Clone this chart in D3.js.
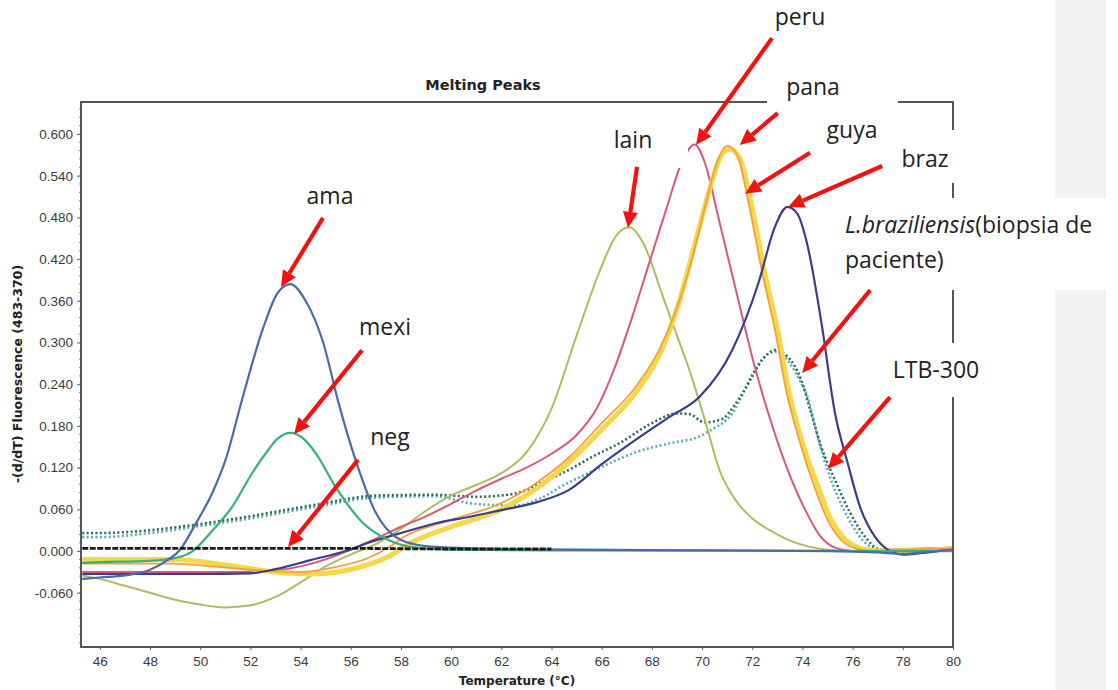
<!DOCTYPE html>
<html><head><meta charset="utf-8">
<script src="https://cdn.jsdelivr.net/npm/d3@7"></script>
<style>html,body{margin:0;padding:0;background:#fff;} svg{display:block}</style>
</head><body>
<svg id="chart" width="1118" height="690"></svg>
<script>
// ---------- data ----------
const xTicks = [46,48,50,52,54,56,58,60,62,64,66,68,70,72,74,76,78,80];
const yTicks = [-0.06,0,0.06,0.12,0.18,0.24,0.30,0.36,0.42,0.48,0.54,0.60];

const ama = [[45.3,-0.040],[46,-0.038],[47,-0.035],[48,-0.027],[48.7,-0.013],[49.2,0.002],[49.8,0.038],[50.5,0.085],[51,0.13],[51.7,0.222],[52.5,0.32],[53.1,0.372],[53.6,0.384],[54.2,0.36],[54.9,0.30],[55.5,0.215],[56.2,0.13],[57,0.055],[57.8,0.02],[58.8,0.008],[60,0.005],[62,0.003],[65,0.002],[70,0.001],[75,0.0],[77,-0.002],[78,-0.004],[79,-0.001],[80,0.002]];
const mexi = [[45.3,-0.017],[46,-0.016],[48,-0.014],[49,-0.01],[49.7,0.0],[50.5,0.03],[51.3,0.065],[52,0.108],[52.6,0.14],[53.1,0.162],[53.6,0.170],[54.1,0.162],[54.6,0.141],[55.4,0.092],[56.5,0.04],[57.5,0.016],[58.6,0.005],[60,0.002],[64,0.001],[80,0.0]];
const neg = [[45.3,0.004],[50,0.004],[55,0.004],[60,0.003],[64,0.003]];
const lain = [[45.3,-0.035],[46,-0.04],[47,-0.05],[48,-0.06],[49,-0.07],[50,-0.077],[51,-0.081],[52,-0.078],[53,-0.066],[54,-0.045],[55,-0.022],[56,-0.005],[57,0.01],[58,0.032],[59,0.058],[60,0.08],[61,0.095],[62,0.112],[63,0.142],[64,0.205],[65,0.31],[66,0.41],[66.6,0.455],[67.1,0.466],[67.7,0.44],[68.4,0.37],[69,0.31],[69.5,0.26],[70.1,0.19],[70.7,0.116],[71.4,0.07],[72,0.047],[72.7,0.03],[73.5,0.015],[74.3,0.006],[75,0.002],[76,0],[80,0.001]];
const peru = [[45.3,-0.03],[46,-0.03],[48,-0.03],[50,-0.03],[52,-0.03],[53,-0.028],[54,-0.022],[55,-0.012],[56,0.002],[57,0.018],[58,0.035],[59,0.05],[60,0.068],[61,0.087],[62,0.104],[63,0.12],[64,0.14],[65,0.167],[65.8,0.205],[66.5,0.262],[67.2,0.335],[67.9,0.415],[68.6,0.495],[69.2,0.56],[69.7,0.585],[70.1,0.56],[70.65,0.48],[71.45,0.36],[72.1,0.265],[72.8,0.18],[73.4,0.118],[74.1,0.06],[74.7,0.022],[75.3,0.005],[76,0.0],[77,0.002],[78,0.003],[79,0.004],[80,0.005]];
const pana = [[45.3,-0.018],[46,-0.018],[49,-0.018],[50.5,-0.022],[52.5,-0.028],[54,-0.03],[55.5,-0.022],[56.7,-0.01],[57.5,0.005],[58.1,0.02],[60,0.045],[62,0.069],[63.4,0.098],[64.7,0.135],[66,0.184],[67.35,0.236],[68.3,0.29],[69,0.35],[69.6,0.42],[70.15,0.50],[70.6,0.56],[71.0,0.583],[71.4,0.57],[71.8,0.51],[72.4,0.40],[72.95,0.31],[73.3,0.24],[73.95,0.15],[74.5,0.09],[75.0,0.045],[75.6,0.014],[76.2,0.003],[76.8,0.0],[78,0.002],[80,0.004]];
const guya = [[45.3,-0.012],[46,-0.012],[49,-0.012],[51,-0.02],[53,-0.03],[54.5,-0.033],[55.5,-0.03],[56.8,-0.018],[57.5,-0.008],[58.3,0.01],[60,0.035],[62,0.06],[63.4,0.09],[64.7,0.128],[66,0.175],[67.4,0.23],[68.4,0.29],[69.1,0.36],[69.7,0.44],[70.3,0.52],[70.75,0.568],[71.1,0.578],[71.5,0.565],[71.9,0.51],[72.5,0.40],[73.05,0.31],[73.4,0.24],[74.05,0.15],[74.6,0.095],[75.1,0.048],[75.75,0.015],[76.4,0.003],[77,0.0],[80,0.003]];
const braz = [[45.3,-0.033],[46,-0.033],[48,-0.033],[50,-0.033],[52,-0.032],[53,-0.026],[54.4,-0.013],[55.8,0.0],[56.7,0.012],[58,0.026],[59.4,0.04],[60.7,0.049],[62,0.059],[63.4,0.07],[64.7,0.088],[66,0.125],[67.35,0.16],[68.7,0.193],[69.9,0.222],[71.2,0.289],[72.25,0.386],[72.9,0.466],[73.4,0.495],[73.8,0.485],[74.2,0.44],[74.75,0.33],[75.3,0.198],[75.8,0.127],[76.3,0.063],[76.9,0.02],[77.4,0.002],[78,-0.005],[78.7,-0.003],[79.4,0.0],[80,0.002]];
const lbraz = [[45.3,0.026],[46,0.026],[48,0.03],[49.2,0.035],[51.8,0.049],[54.5,0.066],[57.1,0.08],[59.4,0.081],[60,0.08],[61,0.078],[62,0.08],[62.7,0.084],[63.7,0.1],[64.7,0.117],[65.7,0.137],[66.7,0.155],[68,0.184],[69,0.198],[69.5,0.197],[70.1,0.185],[70.8,0.19],[71.3,0.21],[71.7,0.232],[72.4,0.275],[72.9,0.289],[73.4,0.28],[73.95,0.246],[74.35,0.198],[74.75,0.15],[75.3,0.102],[75.9,0.055],[76.6,0.016],[77,0.003],[77.5,0]];
const ltb300 = [[45.3,0.02],[46,0.02],[48,0.026],[50,0.036],[52,0.047],[54.5,0.063],[57,0.077],[59.4,0.079],[60,0.075],[60.7,0.069],[62,0.066],[62.7,0.066],[63.5,0.075],[64.5,0.095],[66,0.121],[67.35,0.142],[68.7,0.155],[69.9,0.165],[70.25,0.172],[71.2,0.198],[72.1,0.26],[72.6,0.283],[73.0,0.287],[73.5,0.27],[73.9,0.245],[74.2,0.222],[74.6,0.165],[75,0.117],[75.8,0.049],[76.5,0.012],[77,0.002],[77.5,0]];

// ---------- styling of series ----------
const seriesList = [
  {data: ltb300, color:"#5fa9b8", width:2.6, dash:"2 2.4"},
  {data: lbraz,  color:"#2c6a5c", width:2.6, dash:"2 2.4"},
  {data: lain,   color:"#abbd62", width:2},
  {data: peru,   color:"#d65a78", width:2},
  {data: guya,   color:"#f7d64a", width:5},
  {data: pana,   color:"#f0a040", width:1.8},
  {data: braz,   color:"#3c3d8a", width:2.2},
  {data: mexi,   color:"#3aae7c", width:2.2},
  {data: ama,    color:"#4d6aa6", width:2.2},
  {data: neg,    color:"#1a1a1a", width:2.8, dash:"6 1.5"}
];

// annotations: tip in data coords, tail offset & label in px
const annotations = [
  {tip:[53.22,0.380], d:[42,-69],  text:"ama",  lx:330, ly:204},
  {tip:[53.74,0.168], d:[68,-84],  text:"mexi", lx:385, ly:335},
  {tip:[53.50,0.006], d:[70,-87],  text:"neg",  lx:390, ly:445},
  {tip:[67.05,0.465], d:[9,-61],   text:"lain", lx:633, ly:148},
  {tip:[69.76,0.584], d:[76,-107], text:"peru", lx:800, ly:25},
  {tip:[71.50,0.584], d:[38,-32],  text:"pana", lx:813, ly:95},
  {tip:[71.71,0.514], d:[65,-41],  text:"guya", lx:852, ly:138},
  {tip:[73.43,0.495], d:[94,-41],  text:"braz", lx:925, ly:167},
  {tip:[73.99,0.256], d:[68,-83],  text:null,   lx:845, ly:233},
  {tip:[75.02,0.118], d:[62,-72],  text:"LTB-300", lx:936, ly:378}
];

// ---------- layout ----------
const svg = d3.select("#chart");
const x = d3.scaleLinear().domain([45.25, 80]).range([81, 953]);
const y = d3.scaleLinear().domain([-0.138, 0.646]).range([647, 102]);

// gray strip at right
svg.append("rect").attr("x",1055).attr("y",0).attr("width",51).attr("height",690).attr("fill","#f2f2f2");

// clip
svg.append("defs").append("clipPath").attr("id","plot")
  .append("rect").attr("x",82).attr("y",103).attr("width",870).attr("height",543);

// title
svg.append("text").attr("x",483).attr("y",90).attr("text-anchor","middle")
  .attr("font-family","DejaVu Sans").attr("font-weight","bold").attr("font-size",14.5)
  .attr("fill","#222").text("Melting Peaks");

// axes
const yAxis = svg.append("g").attr("transform","translate(81,0)")
  .call(d3.axisLeft(y).tickValues(yTicks).tickSize(4).tickFormat(d=>d.toFixed(3)));
yAxis.select(".domain").remove();
yAxis.selectAll("text").attr("font-family","Liberation Sans").attr("font-size",13.5).attr("fill","#3a3a3a").attr("dx","-1");
yAxis.selectAll("line").attr("stroke","#666");
const minorY = d3.range(-0.132, 0.646, 0.012);
svg.append("g").selectAll("line").data(minorY).join("line")
  .attr("x1",79).attr("x2",81).attr("y1",d=>y(d)).attr("y2",d=>y(d)).attr("stroke","#888").attr("stroke-width",1);

const xAxis = svg.append("g").attr("transform","translate(0,647)")
  .call(d3.axisBottom(x).tickValues(xTicks).tickSize(3).tickFormat(d3.format("d")));
xAxis.select(".domain").remove();
xAxis.selectAll("text").attr("font-family","Liberation Sans").attr("font-size",13.5).attr("fill","#3a3a3a").attr("dy","0.95em");
xAxis.selectAll("line").attr("stroke","#666");

svg.append("text").attr("x",517).attr("y",685).attr("text-anchor","middle")
  .attr("font-family","DejaVu Sans").attr("font-weight","bold").attr("font-size",12)
  .attr("fill","#222").text("Temperature (°C)");
svg.append("text").attr("transform","translate(22,374) rotate(-90)").attr("text-anchor","middle")
  .attr("font-family","DejaVu Sans").attr("font-weight","bold").attr("font-size",12.5)
  .attr("fill","#222").text("-(d/dT) Fluorescence (483-370)");

// curves
const line = d3.line().x(d=>x(d[0])).y(d=>y(d[1])).curve(d3.curveMonotoneX);
const cg = svg.append("g").attr("clip-path","url(#plot)");
seriesList.forEach(s=>{
  cg.append("path").attr("d",line(s.data)).attr("fill","none")
    .attr("stroke",s.color).attr("stroke-width",s.width)
    .attr("stroke-linejoin","round")
    .attr("stroke-dasharray",s.dash||null);
});

// frame
svg.append("rect").attr("x",81).attr("y",102).attr("width",872).attr("height",545)
  .attr("fill","none").attr("stroke","#555").attr("stroke-width",2);

// white label boxes (occlude frame/curves as in the source)
const boxes = [[602,118,86,50],[767,60,131,88],[890,130,70,53],[838,198,268,92],[885,343,105,54],[765,0,75,40]];
svg.append("g").selectAll("rect").data(boxes).join("rect")
  .attr("x",d=>d[0]).attr("y",d=>d[1]).attr("width",d=>d[2]).attr("height",d=>d[3]).attr("fill","#fff");

// labels
const lab = svg.append("g").attr("font-family","Open Sans").attr("font-size",23).attr("fill","#222");
annotations.forEach(a=>{
  if(a.text){
    lab.append("text").attr("x",a.lx).attr("y",a.ly).attr("text-anchor","middle").text(a.text);
  } else {
    const t = lab.append("text").attr("x",a.lx).attr("y",a.ly);
    t.append("tspan").attr("font-style","italic").text("L.braziliensis");
    t.append("tspan").text("(biopsia de");
    lab.append("text").attr("x",a.lx).attr("y",a.ly+35).text("paciente)");
  }
});

// arrows
const ag = svg.append("g");
annotations.forEach(a=>{
  const x2 = x(a.tip[0]), y2 = y(a.tip[1]);
  const x1 = x2 + a.d[0], y1 = y2 + a.d[1];
  const ang = Math.atan2(y2-y1, x2-x1);
  const hl = 16, hw = 7.5;
  const bx = x2 - hl*Math.cos(ang), by = y2 - hl*Math.sin(ang);
  ag.append("line").attr("x1",x1).attr("y1",y1).attr("x2",bx).attr("y2",by)
    .attr("stroke","#f21212").attr("stroke-width",4.2);
  ag.append("polygon").attr("fill","#f21212").attr("points",[
    [x2,y2],
    [bx + hw*Math.sin(ang), by - hw*Math.cos(ang)],
    [bx - hw*Math.sin(ang), by + hw*Math.cos(ang)]
  ].map(p=>p.join(",")).join(" "));
});
</script>
</body></html>
